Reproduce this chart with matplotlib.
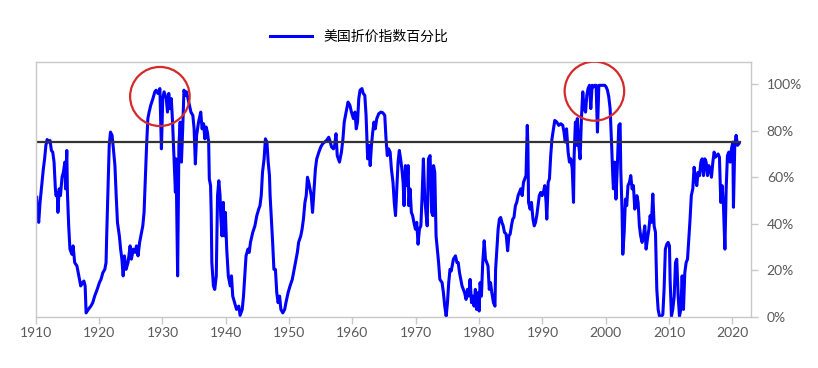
import matplotlib
matplotlib.use("Agg")
import matplotlib.pyplot as plt
from matplotlib.patches import Ellipse

plt.rcParams['font.family'] = ['Lato', 'Noto Sans CJK SC', 'DejaVu Sans']

# values (year, percentile of discount index)
years = [
    1910.15, 1910.25, 1910.47, 1910.68, 1910.89, 1911.2, 1911.4, 1911.6, 1911.8, 1912.05,
    1912.26, 1912.47, 1912.68, 1912.89, 1913.1, 1913.2, 1913.4, 1913.5, 1913.7, 1913.9,
    1914.15, 1914.36, 1914.6, 1914.7, 1914.9, 1915.0, 1915.2, 1915.4, 1915.7, 1915.9,
    1916.15, 1916.5, 1916.8, 1917.1, 1917.4, 1917.6, 1917.8, 1917.95, 1918.3, 1918.7,
    1919.0, 1919.3, 1919.5, 1919.7, 1920.05, 1920.3, 1920.6, 1920.9, 1921.1, 1921.2,
    1921.4, 1921.6, 1921.8, 1922.05, 1922.26, 1922.5, 1922.7, 1922.9, 1923.2, 1923.4,
    1923.6, 1923.8, 1924.0, 1924.26, 1924.57, 1924.9, 1925.1, 1925.4, 1925.7, 1925.9,
    1926.15, 1926.4, 1926.6, 1926.9, 1927.1, 1927.3, 1927.5, 1927.7, 1927.9, 1928.15,
    1928.5, 1928.8, 1929.0, 1929.3, 1929.6, 1929.84, 1930.05, 1930.26, 1930.6, 1930.8,
    1931.0, 1931.2, 1931.4, 1931.6, 1931.84, 1932.05, 1932.15, 1932.4, 1932.6, 1932.8,
    1933.0, 1933.2, 1933.4, 1933.6, 1933.8, 1934.15, 1934.5, 1934.8, 1935.0, 1935.2,
    1935.4, 1935.7, 1936.05, 1936.26, 1936.5, 1936.7, 1936.9, 1937.1, 1937.3, 1937.4,
    1937.6, 1937.7, 1937.8, 1938.05, 1938.26, 1938.5, 1938.7, 1938.9, 1939.1, 1939.2,
    1939.4, 1939.6, 1939.8, 1939.94, 1940.15, 1940.4, 1940.7, 1940.9, 1941.1, 1941.4,
    1941.7, 1942.05, 1942.26, 1942.6, 1942.8, 1943.0, 1943.2, 1943.5, 1943.7, 1943.9,
    1944.26, 1944.6, 1944.9, 1945.2, 1945.4, 1945.6, 1945.8, 1946.05, 1946.26, 1946.5,
    1946.7, 1946.9, 1947.0, 1947.2, 1947.4, 1947.6, 1947.84, 1948.05, 1948.26, 1948.5,
    1948.7, 1949.0, 1949.3, 1949.5, 1949.84, 1950.15, 1950.5, 1950.7, 1950.9, 1951.1,
    1951.3, 1951.5, 1951.84, 1952.05, 1952.26, 1952.5, 1952.7, 1952.9, 1953.1, 1953.3,
    1953.5, 1953.7, 1953.94, 1954.15, 1954.36, 1954.7, 1955.0, 1955.3, 1955.6, 1955.9,
    1956.26, 1956.5, 1956.7, 1957.0, 1957.2, 1957.4, 1957.6, 1957.95, 1958.26, 1958.5,
    1958.7, 1959.0, 1959.3, 1959.6, 1959.84, 1960.15, 1960.4, 1960.6, 1960.8, 1961.0,
    1961.2, 1961.5, 1961.7, 1961.95, 1962.15, 1962.4, 1962.6, 1962.8, 1963.0, 1963.2,
    1963.4, 1963.6, 1963.84, 1964.15, 1964.5, 1964.8, 1965.1, 1965.3, 1965.5, 1965.7,
    1965.95, 1966.15, 1966.4, 1966.6, 1966.8, 1967.0, 1967.2, 1967.4, 1967.6, 1967.8,
    1968.0, 1968.15, 1968.36, 1968.57, 1968.8, 1968.9, 1969.1, 1969.3, 1969.5, 1969.7,
    1969.94, 1970.15, 1970.36, 1970.57, 1970.8, 1971.0, 1971.2, 1971.4, 1971.6, 1971.8,
    1972.0, 1972.26, 1972.5, 1972.7, 1972.8, 1973.0, 1973.2, 1973.4, 1973.6, 1973.8,
    1974.15, 1974.36, 1974.57, 1974.8, 1975.0, 1975.2, 1975.4, 1975.6, 1975.94, 1976.26,
    1976.5, 1976.7, 1976.9, 1977.1, 1977.3, 1977.5, 1977.7, 1977.94, 1978.15, 1978.36,
    1978.57, 1978.8, 1979.0, 1979.2, 1979.4, 1979.6, 1979.8, 1980.0, 1980.15, 1980.36,
    1980.57, 1980.8, 1981.0, 1981.2, 1981.4, 1981.6, 1981.8, 1982.0, 1982.26, 1982.5,
    1982.6, 1982.8, 1983.0, 1983.2, 1983.4, 1983.6, 1983.8, 1984.0, 1984.26, 1984.5,
    1984.7, 1984.9, 1985.1, 1985.3, 1985.5, 1985.73, 1985.94, 1986.15, 1986.36, 1986.57,
    1986.8, 1987.0, 1987.2, 1987.4, 1987.6, 1987.7, 1987.8, 1988.05, 1988.26, 1988.5,
    1988.7, 1988.9, 1989.1, 1989.3, 1989.5, 1989.73, 1989.94, 1990.15, 1990.36, 1990.57,
    1990.68, 1990.9, 1991.1, 1991.3, 1991.5, 1991.73, 1991.94, 1992.26, 1992.57, 1992.9,
    1993.2, 1993.4, 1993.6, 1993.8, 1994.05, 1994.26, 1994.47, 1994.7, 1994.9, 1995.0,
    1995.2, 1995.4, 1995.5, 1995.73, 1995.94, 1996.15, 1996.36, 1996.57, 1996.8, 1997.0,
    1997.2, 1997.42, 1997.63, 1997.84, 1998.05, 1998.26, 1998.47, 1998.68, 1998.9, 1999.2,
    1999.5, 1999.84, 2000.05, 2000.26, 2000.47, 2000.68, 2000.9, 2001.1, 2001.2, 2001.4,
    2001.6, 2001.8, 2002.05, 2002.26, 2002.36, 2002.57, 2002.68, 2002.9, 2003.1, 2003.3,
    2003.5, 2003.73, 2003.94, 2004.15, 2004.36, 2004.57, 2004.75, 2004.9, 2005.1, 2005.3,
    2005.5, 2005.73, 2005.94, 2006.15, 2006.36, 2006.57, 2006.8, 2007.0, 2007.2, 2007.42,
    2007.63, 2007.84, 2007.94, 2008.05, 2008.26, 2008.47, 2008.8, 2009.0, 2009.2, 2009.4,
    2009.63, 2009.84, 2010.05, 2010.15, 2010.36, 2010.57, 2010.8, 2011.0, 2011.2, 2011.42,
    2011.63, 2011.84, 2012.05, 2012.26, 2012.47, 2012.68, 2012.9, 2013.1, 2013.3, 2013.5,
    2013.73, 2013.94, 2014.15, 2014.36, 2014.57, 2014.8, 2015.0, 2015.2, 2015.42, 2015.63,
    2015.84, 2016.05, 2016.26, 2016.47, 2016.68, 2016.9, 2017.1, 2017.3, 2017.5, 2017.73,
    2017.94, 2018.15, 2018.36, 2018.57, 2018.8, 2019.0, 2019.2, 2019.42, 2019.63, 2019.84,
    2020.05, 2020.15, 2020.36, 2020.57, 2020.8, 2021.0,
]
pct = [
    51.4, 44.9, 40.6, 49.2, 55.0, 63.6, 67.9, 73.7, 76.2, 75.1,
    75.8, 71.5, 70.8, 66.5, 55.0, 52.1, 53.5, 44.9, 55.0, 52.1,
    60.0, 62.1, 66.5, 55.0, 71.5, 53.5, 39.1, 29.1, 26.9, 30.5,
    23.3, 21.9, 17.6, 13.3, 14.7, 15.4, 13.3, 1.7, 3.2, 4.6,
    6.1, 8.9, 10.4, 11.8, 14.7, 16.1, 19.0, 20.4, 23.3, 34.8,
    55.0, 73.7, 79.4, 78.0, 72.2, 65.0, 52.1, 40.6, 34.8, 29.1,
    24.8, 17.6, 26.2, 20.4, 23.3, 30.5, 24.8, 29.1, 27.7, 30.5,
    26.2, 32.0, 34.8, 39.1, 44.9, 59.3, 73.7, 85.2, 88.0, 90.9,
    93.8, 96.7, 97.4, 96.0, 98.1, 72.2, 93.8, 96.7, 93.8, 88.0,
    96.0, 89.5, 93.8, 83.7, 67.9, 53.5, 67.9, 17.6, 73.7, 83.7,
    66.5, 80.8, 97.4, 95.2, 96.7, 92.3, 88.0, 86.6, 80.8, 65.7,
    78.0, 83.7, 88.0, 80.8, 83.0, 76.5, 81.6, 79.4, 75.1, 59.3,
    56.4, 44.9, 23.3, 13.3, 11.8, 17.6, 52.1, 58.5, 52.1, 43.5,
    34.8, 49.2, 34.8, 44.9, 29.1, 17.6, 13.3, 17.6, 8.9, 6.1,
    3.2, 4.6, 0.6, 3.2, 8.9, 17.6, 26.2, 29.1, 27.7, 32.0,
    36.3, 39.1, 43.5, 46.3, 47.8, 52.1, 62.1, 67.9, 76.5, 75.1,
    66.5, 60.7, 52.1, 42.0, 32.0, 20.4, 20.4, 10.4, 6.1, 8.9,
    3.2, 1.7, 3.2, 6.1, 10.4, 13.3, 16.1, 19.0, 21.9, 24.8,
    27.7, 32.0, 34.8, 37.7, 42.0, 49.2, 52.1, 60.0, 57.8, 55.0,
    52.1, 44.9, 55.0, 63.6, 67.9, 70.8, 73.0, 74.4, 75.1, 75.8,
    77.2, 75.1, 73.0, 72.2, 73.7, 78.7, 69.3, 66.5, 70.8, 76.5,
    83.7, 88.0, 92.3, 90.9, 88.0, 85.2, 88.0, 80.8, 83.7, 93.8,
    97.4, 98.1, 96.0, 95.2, 86.6, 67.9, 73.7, 65.0, 73.7, 79.4,
    83.7, 80.8, 85.2, 87.3, 88.0, 87.7, 86.6, 76.5, 69.3, 72.2,
    70.8, 63.6, 57.8, 49.2, 43.5, 55.0, 66.5, 71.5, 67.9, 63.6,
    57.8, 47.8, 65.0, 56.4, 65.0, 47.8, 55.0, 44.9, 43.5, 40.6,
    37.7, 40.6, 31.2, 37.7, 39.1, 52.1, 67.9, 52.1, 44.9, 39.1,
    67.9, 69.3, 44.9, 43.5, 65.0, 62.1, 34.8, 29.1, 23.3, 16.1,
    14.7, 10.4, 4.6, 0.3, 6.1, 14.7, 20.4, 19.7, 24.8, 26.2,
    23.3, 23.3, 19.0, 16.1, 13.3, 11.8, 10.4, 7.5, 11.8, 8.9,
    16.1, 6.1, 8.9, 4.6, 11.8, 3.2, 10.4, 2.5, 14.7, 8.9,
    23.3, 32.7, 24.8, 23.3, 21.9, 11.8, 14.7, 10.4, 6.1, 4.6,
    20.4, 29.1, 37.7, 42.0, 42.7, 40.6, 39.1, 36.3, 35.6, 28.4,
    34.8, 35.6, 39.1, 42.0, 42.7, 47.8, 49.2, 52.1, 53.5, 55.0,
    52.1, 57.8, 59.3, 60.7, 82.3, 73.7, 49.2, 46.3, 49.2, 42.0,
    39.1, 40.6, 43.5, 47.8, 52.1, 53.5, 52.1, 53.5, 56.4, 49.2,
    42.0, 57.8, 59.3, 69.3, 76.5, 80.8, 84.4, 83.7, 82.3, 83.0,
    82.3, 79.4, 75.1, 80.8, 70.8, 66.5, 67.9, 63.6, 49.2, 69.3,
    83.7, 73.7, 85.2, 73.7, 67.9, 85.2, 96.7, 89.5, 88.0, 95.2,
    98.1, 99.5, 89.5, 99.5, 98.8, 99.5, 99.5, 79.4, 99.5, 99.5,
    99.5, 99.5, 98.8, 97.4, 94.5, 89.5, 75.1, 60.7, 55.0, 66.5,
    50.6, 63.6, 82.3, 83.0, 63.6, 44.9, 26.9, 36.3, 50.6, 47.8,
    56.4, 57.8, 60.7, 55.0, 56.4, 46.3, 48.0, 52.1, 49.2, 39.1,
    34.8, 32.0, 34.8, 39.1, 29.1, 33.4, 37.7, 43.5, 40.6, 52.8,
    39.1, 36.3, 24.8, 11.8, 3.2, 0.3, 0.3, 1.0, 11.8, 29.1,
    31.2, 32.0, 30.5, 16.1, 0.3, 3.2, 8.9, 23.3, 24.8, 8.9,
    0.3, 3.2, 17.6, 3.2, 19.0, 23.3, 24.8, 33.4, 42.0, 52.1,
    55.0, 64.3, 59.3, 56.4, 62.1, 60.7, 66.5, 67.9, 60.7, 67.9,
    66.5, 60.7, 65.0, 63.6, 60.0, 66.5, 70.8, 68.6, 69.3, 70.0,
    68.6, 49.2, 56.4, 47.8, 29.1, 55.0, 69.3, 70.8, 66.5, 72.2,
    75.1, 47.1, 73.7, 78.0, 73.7, 74.4,
]

ref_level = 75          # horizontal reference line
ref_span = [1910, 2021.2]
circles = [(1929.6, 94.7), (1998.2, 97.0)]  # highlighted peaks
legend_label = "美国折价指数百分比"

fig = plt.figure(figsize=(8.18, 3.68), dpi=100)
ax = fig.add_axes([0.0437, 0.139, 0.875, 0.693])

line, = ax.plot(years, pct, color="#0000FF", lw=2.2, label=legend_label)
ax.plot(ref_span, [ref_level, ref_level], color="#333333", lw=1.6)

for cx, cy in circles:
    ax.add_patch(Ellipse((cx, cy), width=9.4, height=25.4, fill=False,
                         edgecolor="#D42A2A", lw=1.6, zorder=5))

ax.set_xlim(1910, 2023)
ax.set_ylim(0, 109.6)
ax.set_xticks(range(1910, 2021, 10))
ax.set_yticks(range(0, 101, 20))
ax.set_yticklabels([f"{v}%" for v in range(0, 101, 20)])
ax.yaxis.tick_right()

for s in ax.spines.values():
    s.set_color("#C8C8C8")
    s.set_linewidth(1.0)
ax.tick_params(axis="both", colors="#C8C8C8", labelcolor="#595959",
               length=5, width=1.0, labelsize=10)
ax.tick_params(axis="x", pad=2)
ax.tick_params(axis="y", pad=6)

fig.legend(handles=[line], loc="center", bbox_to_anchor=(0.439, 0.9),
           frameon=False, handlelength=3.0, handletextpad=0.8,
           prop={"family": ["Noto Sans CJK SC", "DejaVu Sans"], "size": 10})

fig.savefig("out.png", dpi=100)
